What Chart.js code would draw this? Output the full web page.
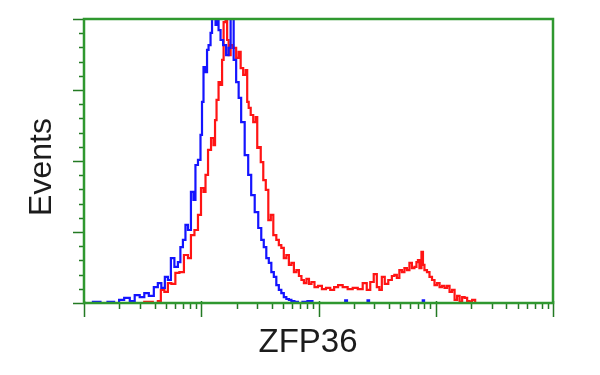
<!DOCTYPE html>
<html>
<head>
<meta charset="utf-8">
<script src="https://cdn.jsdelivr.net/npm/chart.js@4/dist/chart.umd.min.js"></script>
<style>
  html, body { margin: 0; padding: 0; background: #fff; }
  #wrap { width: 600px; height: 375px; }
</style>
</head>
<body>
<div id="wrap"><canvas id="c" width="600" height="375"></canvas></div>
<script>
// ZFP36 flow histogram: control (blue) vs stained (red), events in % of full scale
const blueX = [1.10, 1.29, 1.48, 1.70, 1.92, 2.07, 2.34, 2.58, 2.84, 3.14, 3.40, 3.75, 4.14, 4.39, 4.75, 5.04,
    5.35, 5.67, 6.14, 6.51, 6.77, 7.19, 7.48, 7.93, 8.41, 8.75, 9.10, 9.66, 10.05, 10.25, 10.66, 11.09,
    11.32, 11.77, 12.24, 12.48, 12.98, 13.51, 13.77, 14.33, 14.90, 15.82, 16.79, 17.46, 18.16, 18.53,
    19.27, 20.44, 21.26, 22.55, 24.42, 25.89, 27.46, 29.73, 31.54, 33.46, 34.83, 36.94, 38.45, 40.79,
    42.40, 44.99, 46.8, 49.6, 51.6, 54.8, 57.0, 60.5, 64.2, 69.5, 76.6, 84.6, 93.3, 125, 166, 172, 178,
    206, 258, 266, 274, 337, 765, 785, 805, 902];
const blueY = [0, 0.4, 0, 0.4, 0, 1.1, 1.8, 0.7, 2.8, 2.1, 3.5, 2.5, 5.6, 7.0, 5.3, 9.2,
    8.1, 15.8, 12.7, 14.4, 19.7, 22.2, 27.5, 25.7, 39.1, 36.3, 48.6, 50.4, 59.2, 70.8, 83.1, 81.3,
    89.1, 90.8, 95.1, 101, 104, 97.9, 104, 96.1, 92.6, 90.8, 87.3, 89.8, 104, 101,
    85.6, 77.8, 72.2, 63.7, 52.1, 45.1, 38.0, 32.0, 26.4, 22.2, 19.7, 15.8, 14.1, 10.9,
    9.2, 6.3, 4.6, 3.5, 2.1, 1.4, 1.1, 0.7, 0.4, 0, 0.4, 0.7, 0, 0, 0, 0.9, 0,
    0, 0, 0.9, 0, 0, 0, 0.9, 0, 0];

const redX = [2.96, 3.60, 4.14, 4.39, 4.66, 5.04, 5.35, 5.78, 6.26, 6.77, 7.48, 7.93, 8.41, 9.10, 9.66,
    10.25, 10.66, 11.09, 11.77, 12.48, 12.98, 13.24, 13.77, 14.33, 14.90, 15.21, 15.82, 16.46, 16.79,
    17.46, 18.16, 19.27, 20.44, 21.26, 22.12, 23.46, 24.42, 24.89, 25.89, 26.94, 28.58, 29.73, 30.33,
    31.54, 32.81, 34.83, 36.22, 38.45, 39.98, 42.40, 44.99, 46.8, 49.6, 51.6, 54.8, 57.0, 60.5, 62.9,
    66.7, 69.5, 73.6, 76.6, 81.3, 84.6, 89.7, 95.2, 103, 111, 121, 131, 141, 153, 169, 186, 206, 227,
    250, 266, 287, 305, 324, 337, 357, 378, 410, 435, 452, 480, 499, 530, 551, 585, 608, 645, 671,
    698, 712, 740, 771, 785, 817, 867, 902, 957, 995, 1057, 1099, 1165, 1213, 1286, 1337, 1420, 1476,
    1567, 1630, 1730, 1797, 1910, 1983, 2105, 2234];
const redY = [0, 0.4, 0, 0.7, 4.6, 3.9, 7.0, 6.7, 10.6, 10.9, 16.9, 15.8, 23.9, 25.7, 31.0,
    40.5, 39.1, 45.1, 53.9, 58.1, 55.6, 64.4, 71.5, 77.8, 76.8, 85.6, 98.9, 104, 92.6,
    87.3, 90.8, 89.8, 86.3, 88.4, 82.7, 80.3, 82.0, 70.8, 68.7, 66.2, 63.7, 65.5, 54.6,
    54.9, 49.6, 43.3, 39.8, 29.2, 31.0, 23.9, 22.2, 20.4, 19.4, 15.8, 16.9, 13.4, 14.1, 10.9,
    11.6, 9.5, 8.1, 7.0, 8.5, 6.7, 7.4, 5.6, 6.0, 4.9, 5.3, 4.6, 5.6, 6.3, 5.6, 4.9, 5.3, 4.9,
    7.0, 4.6, 7.4, 10.2, 5.6, 4.6, 9.2, 6.7, 8.1, 9.5, 9.9, 8.8, 11.6, 10.9, 12.3, 11.6, 14.1, 12.3, 12.7,
    14.4, 15.1, 12.3, 18.0, 13.4, 11.6, 10.9, 9.2, 8.1, 6.3, 7.0, 5.6, 6.0, 5.3, 6.0, 3.9, 4.6, 1.1,
    2.5, 0.4, 2.1, 1.8, 0.7, 0.4, 1.1, 0];

const xMajorTicks = [1, 10, 100, 1000, 10000];
const xMinorTicks = [2, 3, 4, 5, 6, 7, 8, 9, 20, 30, 40, 50, 60, 70, 80, 90,
    200, 300, 400, 500, 600, 700, 800, 900, 2000, 3000, 4000, 5000, 6000, 7000, 8000, 9000];
const yMajorTicks = [0, 25, 50, 75, 100];
const yMinorTicks = [5, 10, 15, 20, 30, 35, 40, 45, 55, 60, 65, 70, 80, 85, 90, 95];

const xTitle = 'ZFP36';
const yTitle = 'Events';

const frameColor = '#2f982f';
const tickColor = '#237a23';
const FONT = '"Liberation Sans", Arial, Helvetica, sans-serif';

function toPoints(xs, ys) {
    return xs.map((x, i) => ({ x, y: ys[i] }));
}

// frame, ticks and axis titles drawn over the datasets, placed through the scales
const framePlugin = {
    id: 'frame',
    afterDatasetsDraw(chart) {
        const { ctx, chartArea: a, scales } = chart;
        const sx = scales.x;
        const sy = scales.y;
        ctx.save();
        ctx.strokeStyle = tickColor;
        ctx.lineWidth = 1.5;
        ctx.beginPath();
        for (const v of xMajorTicks) {
            const px = Math.round(sx.getPixelForValue(v)) + 0.5;
            ctx.moveTo(px, a.bottom - 2);
            ctx.lineTo(px, a.bottom + 14);
        }
        for (const v of xMinorTicks) {
            const px = Math.round(sx.getPixelForValue(v)) + 0.5;
            ctx.moveTo(px, a.bottom);
            ctx.lineTo(px, a.bottom + 6);
        }
        for (const v of yMajorTicks) {
            const py = Math.round(sy.getPixelForValue(v)) + 0.5;
            ctx.moveTo(a.left - 11, py);
            ctx.lineTo(a.left, py);
        }
        for (const v of yMinorTicks) {
            const py = Math.round(sy.getPixelForValue(v)) + 0.5;
            ctx.moveTo(a.left - 5, py);
            ctx.lineTo(a.left, py);
        }
        ctx.stroke();

        ctx.strokeStyle = frameColor;
        ctx.lineWidth = 2.5;
        ctx.strokeRect(a.left, a.top, a.right - a.left, a.bottom - a.top);

        ctx.fillStyle = '#1c1c1c';
        ctx.textAlign = 'center';
        ctx.textBaseline = 'middle';
        ctx.font = '33px ' + FONT;
        ctx.fillText(xTitle, 308, 343);
        ctx.translate(42, (a.top + a.bottom) / 2 + 6);
        ctx.rotate(-Math.PI / 2);
        ctx.font = '32px ' + FONT;
        ctx.fillText(yTitle, 0, 0);
        ctx.restore();
    },
};

const lineStyle = {
    borderWidth: 2.2,
    pointRadius: 0,
    stepped: 'middle',
    fill: false,
    clip: 0,
};

new Chart(document.getElementById('c'), {
    type: 'line',
    data: {
        datasets: [
            { label: 'Control', data: toPoints(blueX, blueY), borderColor: '#1414ff', ...lineStyle },
            { label: 'ZFP36', data: toPoints(redX, redY), borderColor: '#ff1414', ...lineStyle },
        ],
    },
    options: {
        responsive: false,
        animation: false,
        layout: { padding: { left: 84, right: 47, top: 19, bottom: 72 } },
        plugins: { legend: { display: false }, tooltip: { enabled: false } },
        scales: {
            x: { type: 'logarithmic', min: 1, max: 10000, display: false },
            y: { type: 'linear', min: 0, max: 100, display: false },
        },
    },
    plugins: [framePlugin],
});
</script>
</body>
</html>
